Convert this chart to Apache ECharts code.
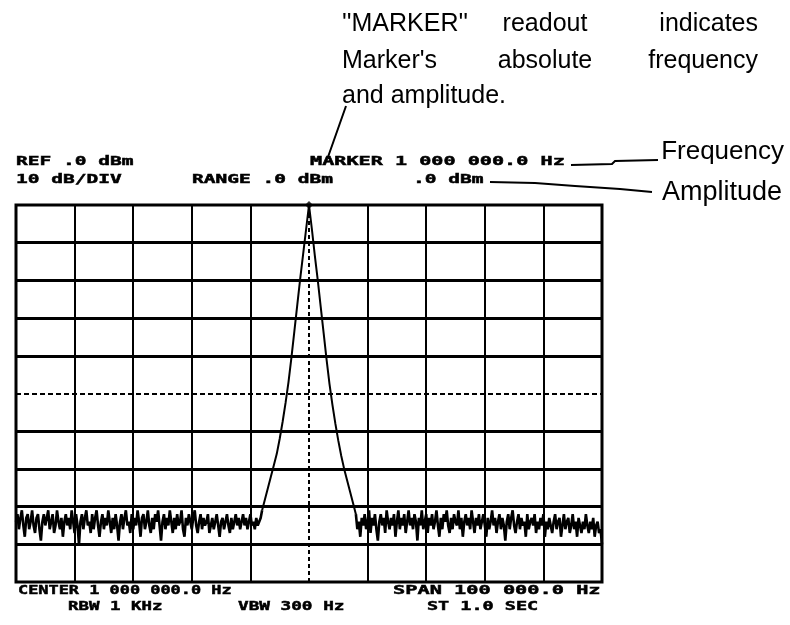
<!DOCTYPE html>
<html><head><meta charset="utf-8">
<script src="https://cdn.jsdelivr.net/npm/echarts@6/dist/echarts.min.js"></script>
<style>html,body{margin:0;padding:0;background:#fff}#c{width:790px;height:625px}</style>
</head><body><div id="c"></div>
<script>
// Sweep in kHz: noise sampled every 0.25 kHz, the response peak every 0.5 kHz
const LEFT_START_KHZ = 950;
const PEAK_START_KHZ = 992;
const RIGHT_START_KHZ = 1008.25;
const NOISE_STEP_KHZ = 0.25;
const PEAK_STEP_KHZ = 0.5;
// Amplitude readings (dBm)
const leftNoise = [
-84,-82,-86,-83,-81,-85,-88,-83,-82,-86,-84,-81,
-85,-87,-83,-82,-86,-89,-84,-82,-85,-83,-81,-86,
-84,-82,-87,-85,-81,-84,-86,-83,-88,-84,-82,-85,
-83,-86,-81,-84,-87,-82,-85,-90,-84,-82,-86,-83,
-81,-85,-84,-87,-82,-86,-83,-81,-85,-88,-84,-82,
-86,-83,-85,-81,-84,-87,-83,-86,-82,-85,-89,-84,
-82,-86,-83,-81,-85,-84,-87,-82,-86,-83,-85,-81,
-84,-88,-83,-82,-86,-84,-81,-85,-87,-83,-86,-82,
-84,-81,-85,-89,-84,-82,-86,-83,-85,-81,-84,-87,
-83,-86,-82,-85,-84,-81,-86,-88,-83,-85,-82,-84,
-86,-83,-81,-85,-87,-84,-82,-86,-83,-85,-84,-82,
-87,-85,-83,-86,-84,-82,-85,-88,-84,-83,-86,-84,
-82,-85,-87,-83,-86,-84,-82,-85,-83,-86,-84,-82,
-85,-83,-86,-84,-82,-85,-84,-86,-83,-85,-84,-83];
const peakCurve = [
-81,-78,-75,-72,-69,-66,-62,-57.5,-52.5,-47,-40.5,-33.5,-26.5,-19.5,-13,-6.5,
0,
-6.5,-13.5,-20,-27,-34,-41,-47.5,-53,-58,-62.5,-66.5,-70,-73,-76,-79,-82];
const rightNoise = [
-86,-84,-88,-83,-85,-82,-86,-84,-81,-87,-83,-85,
-82,-86,-89,-84,-82,-85,-83,-87,-81,-84,-86,-83,
-85,-82,-88,-84,-81,-86,-83,-85,-82,-87,-84,-81,
-85,-83,-86,-82,-84,-89,-83,-85,-81,-86,-84,-82,
-87,-83,-85,-82,-86,-84,-81,-85,-88,-83,-86,-82,
-84,-81,-85,-87,-83,-86,-82,-84,-85,-81,-86,-83,
-88,-84,-82,-85,-83,-86,-81,-84,-87,-83,-85,-82,
-86,-84,-82,-85,-88,-83,-86,-84,-81,-85,-83,-87,
-84,-82,-86,-83,-85,-89,-84,-82,-86,-83,-81,-85,
-87,-84,-82,-86,-83,-85,-84,-88,-82,-86,-84,-83,
-85,-82,-87,-84,-86,-83,-85,-82,-88,-84,-86,-83,
-85,-87,-84,-82,-86,-84,-83,-88,-85,-82,-86,-84,
-83,-87,-85,-82,-86,-84,-88,-83,-85,-87,-84,-86,
-82,-85,-87,-84,-86,-83,-88,-85,-84,-87,-86,-90];
const markerPoint = [1000, 0];
const xTicks = [950,960,970,980,990,1000,1010,1020,1030,1040,1050];
const yTicks = [0,-10,-20,-30,-40,-50,-60,-70,-80,-90,-100];

const topLeft1 = 'REF .0 dBm';
const topLeft2 = '10 dB/DIV';
const rangeText = 'RANGE .0 dBm';
const markerText = 'MARKER 1 000 000.0 Hz';
const markerAmp = '.0 dBm';
const bottom1a = 'CENTER 1 000 000.0 Hz';
const bottom1b = 'SPAN 100 000.0 Hz';
const bottom2a = 'RBW 1 KHz';
const bottom2b = 'VBW 300 Hz';
const bottom2c = 'ST 1.0 SEC';

const leftData = leftNoise.map((v, i) => [LEFT_START_KHZ + i * NOISE_STEP_KHZ, v]);
const peakData = peakCurve.map((v, i) => [PEAK_START_KHZ + i * PEAK_STEP_KHZ, v]);
const rightData = rightNoise.map((v, i) => [RIGHT_START_KHZ + i * NOISE_STEP_KHZ, v]);
leftData.push(peakData[0]);
rightData.unshift(peakData[peakData.length - 1]);

const gridLines = [];
xTicks.forEach((x, i) => {
  if (i === 0 || i === xTicks.length - 1) return;
  gridLines.push({xAxis: x, lineStyle: {color: '#000', width: 2, type: x === 1000 ? [4, 3] : 'solid'}});
});
yTicks.forEach((y, i) => {
  if (i === 0 || i === yTicks.length - 1) return;
  gridLines.push({yAxis: y, lineStyle: {color: '#000', width: y === -50 ? 2 : 3, type: y === -50 ? [5, 3] : 'solid'}});
});

const mono = 'DejaVu Sans Mono';
function scr(text, x, y, sx) {
  return {type: 'text', x: x, y: y, scaleX: sx || 1.5, scaleY: 1, silent: true,
    style: {text: text, fill: '#000', stroke: '#000', lineWidth: 0.5, font: 'bold 13px "' + mono + '"', textVerticalAlign: 'middle', textAlign: 'left'}};
}
function ann(text, x, y, align, size) {
  return {type: 'text', x: x, y: y, silent: true,
    style: {text: text, fill: '#000', font: (size || 26) + 'px "Liberation Sans"', textVerticalAlign: 'middle', textAlign: align || 'left'}};
}
const traceLine = (data, w) => ({type: 'line', data: data, showSymbol: false, symbol: 'none', lineStyle: {color: '#000', width: w}, z: 5});

const chart = echarts.init(document.getElementById('c'), null, {renderer: 'canvas'});
chart.setOption({
  animation: false,
  backgroundColor: '#fff',
  grid: {left: 16, right: 188, top: 205, bottom: 43, show: true, borderColor: '#000', borderWidth: 3, backgroundColor: 'transparent'},
  xAxis: {type: 'value', min: 950, max: 1050, interval: 10, axisLine: {show: false}, axisTick: {show: false}, axisLabel: {show: false}, splitLine: {show: false}},
  yAxis: {type: 'value', min: -100, max: 0, interval: 10, axisLine: {show: false}, axisTick: {show: false}, axisLabel: {show: false}, splitLine: {show: false}},
  series: [
    Object.assign(traceLine(leftData, 2.6), {markLine: {silent: true, symbol: 'none', label: {show: false}, data: gridLines, z: 2}}),
    traceLine(peakData, 2),
    traceLine(rightData, 2.6),
    {type: 'scatter', data: [markerPoint], symbol: 'diamond', symbolSize: 8, itemStyle: {color: '#000'}, z: 6}
  ],
  graphic: [
    scr(topLeft1, 16, 162), scr(topLeft2, 16, 180),
    scr(rangeText, 192, 180), scr(markerText, 310, 162, 1.55), scr(markerAmp, 413, 180),
    scr(bottom1a, 18, 591, 1.3), scr(bottom1b, 393, 591, 1.56),
    scr(bottom2a, 68, 607, 1.34), scr(bottom2b, 238, 607, 1.36), scr(bottom2c, 427, 607, 1.42),
    ann("''MARKER''", 342, 24, 'left', 25), ann('readout', 545, 24, 'center', 25), ann('indicates', 758, 24, 'right', 25),
    ann("Marker's", 342, 61, 'left', 25), ann('absolute', 545, 61, 'center', 25), ann('frequency', 758, 61, 'right', 25),
    ann('and amplitude.', 342, 96, 'left', 25),
    ann('Frequency', 784, 152, 'right'), ann('Amplitude', 782, 193, 'right', 27),
    {type: 'polyline', silent: true, shape: {points: [[346, 106], [328, 157]]}, style: {stroke: '#000', lineWidth: 2, fill: null}},
    {type: 'polyline', silent: true, shape: {points: [[571, 165], [612, 164], [615, 161], [658, 160]]}, style: {stroke: '#000', lineWidth: 2, fill: null}},
    {type: 'polyline', silent: true, shape: {points: [[490, 182], [535, 183], [575, 186], [620, 189], [652, 192]]}, style: {stroke: '#000', lineWidth: 2, fill: null}}
  ]
});
</script></body></html>
